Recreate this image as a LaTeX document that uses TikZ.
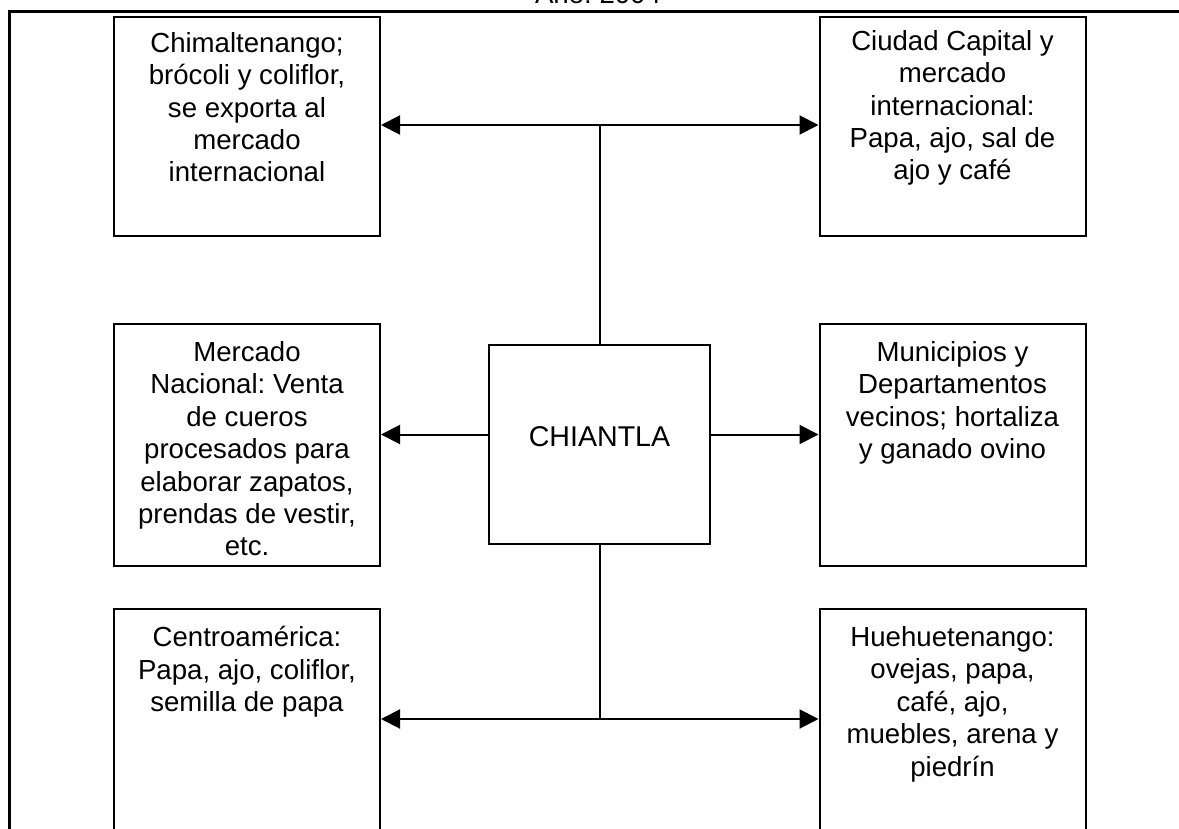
\documentclass[tikz,border=0pt]{standalone}
\usepackage{fontspec}
\setmainfont{Liberation Sans}
\usetikzlibrary{arrows.meta}
\frenchspacing
\begin{document}
\begin{tikzpicture}[x=0.5pt,y=-0.5pt,
  box/.style={draw, line width=1pt, inner sep=0pt},
  sidebox/.style={box, minimum width=133pt},
  txt/.style={anchor=north, inner sep=0pt, align=center, font=\fontsize{13.8}{16.2}\selectfont},
  conn/.style={line width=1pt},
  arr/.style={line width=1pt, -{Triangle[length=9.5pt,width=9.5pt]}}]
\useasboundingbox (0,0) rectangle (1179,829);
% frame
\draw[line width=1.5pt] (9,829) -- (9,12) -- (1179,12);
\node[anchor=base, inner sep=0pt, font=\fontsize{13.8}{16}\selectfont] (anio) at (598,4) {Año: 2004};
% boxes
\node[sidebox, minimum height=109.5pt] (tl) at (247,126.5) {};
\node[sidebox, minimum height=109.5pt] (tr) at (952.5,126.5) {};
\node[sidebox, minimum height=121pt] (ml) at (247,445) {};
\node[sidebox, minimum height=121pt] (mr) at (952.5,445) {};
\node[sidebox, minimum height=130.5pt] (bl) at (247,739.5) {};
\node[sidebox, minimum height=130.5pt] (br) at (952.5,739.5) {};
\node[box, minimum width=110.5pt, minimum height=99.5pt] (c) at (599.5,444.5) {};
\node[inner sep=0pt, anchor=base, font=\fontsize{14.3}{16}\selectfont] (ct) at (599.5,446) {CHIANTLA};
% texts
\node[txt] (tlt) at (247,32) {Chimaltenango;\\brócoli y coliflor,\\se exporta al\\mercado\\internacional};
\node[txt] (trt) at (952.5,30) {Ciudad Capital y\\mercado\\internacional:\\Papa, ajo, sal de\\ajo y café};
\node[txt] (mlt) at (247,341) {Mercado\\Nacional: Venta\\de cueros\\procesados para\\elaborar zapatos,\\prendas de vestir,\\etc.};
\node[txt] (mrt) at (952.5,341) {Municipios y\\Departamentos\\vecinos; hortaliza\\y ganado ovino};
\node[txt] (blt) at (247,626) {Centroamérica:\\Papa, ajo, coliflor,\\semilla de papa};
\node[txt] (brt) at (952.5,626) {Huehuetenango:\\ovejas, papa,\\café, ajo,\\muebles, arena y\\piedrín};
% connectors
\coordinate (jt) at (599.5,125);
\coordinate (jb) at (599.5,719);
\draw[conn] (c.north) -- (jt);
\draw[conn] (c.south) -- (jb);
\draw[arr] (jt) -- (jt -| tl.east);
\draw[arr] (jt) -- (jt -| tr.west);
\draw[arr] (jb) -- (jb -| bl.east);
\draw[arr] (jb) -- (jb -| br.west);
\draw[arr] ([yshift=5pt]c.west) -- ([yshift=5pt]c.west -| ml.east);
\draw[arr] ([yshift=5pt]c.east) -- ([yshift=5pt]c.east -| mr.west);
\end{tikzpicture}
\end{document}
